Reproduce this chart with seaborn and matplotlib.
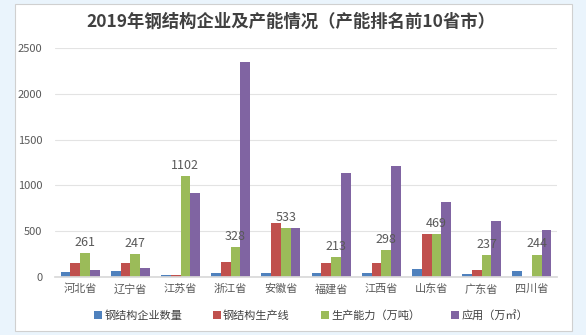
import matplotlib
matplotlib.use("Agg")
import matplotlib.pyplot as plt
import seaborn as sns
import pandas as pd
from matplotlib.patches import Rectangle

provinces = ["河北省", "辽宁省", "江苏省", "浙江省", "安徽省", "福建省", "江西省", "山东省", "广东省", "四川省"]
series_names = ["钢结构企业数量", "钢结构生产线", "生产能力（万吨）", "应用（万㎡）"]
enterprises = [55, 70, 25, 48, 45, 42, 45, 85, 30, 62]
lines = [148, 148, 25, 165, 590, 158, 148, 472, 80, 0]
capacity = [261, 247, 1102, 328, 533, 213, 298, 469, 237, 244]
application = [75, 102, 915, 2350, 530, 1135, 1212, 818, 610, 508]
colors = ["#4f81bd", "#c0504d", "#9bbb59", "#8064a2"]

rows = []
for name, vals in zip(series_names, [enterprises, lines, capacity, application]):
    for p, v in zip(provinces, vals):
        rows.append({"省": p, "系列": name, "值": v})
df = pd.DataFrame(rows)

sns.set_theme(style="white")
plt.rcParams["font.family"] = ["Noto Sans CJK SC", "DejaVu Sans"]

fig = plt.figure(figsize=(5.86, 3.35), dpi=100)
fig.patch.set_facecolor("#eaf4fc")
bg = Rectangle((15 / 586, 4 / 335), 557 / 586, 327 / 335, transform=fig.transFigure,
               facecolor="white", edgecolor="#d0d0d0", linewidth=0.8, zorder=-10)
fig.add_artist(bg)

ax = fig.add_axes([55 / 586, 58 / 335, 502 / 586, 229 / 335])
ax.set_facecolor("none")
sns.barplot(data=df, x="省", y="值", hue="系列", palette=colors, width=0.78, gap=0,
            saturation=1, ax=ax, legend=True, linewidth=0)

ax.set_ylim(0, 2500)
ax.set_xlim(-0.5, 9.5)
ax.set_yticks([0, 500, 1000, 1500, 2000, 2500])
ax.yaxis.grid(True, color="#e3e3e3", linewidth=0.8)
ax.set_axisbelow(True)
for s in ["top", "right", "left"]:
    ax.spines[s].set_visible(False)
ax.spines["bottom"].set_color("#d9d9d9")
ax.set_xlabel("")
ax.set_ylabel("")
ax.tick_params(axis="y", labelsize=8, colors="#595959", length=0, pad=9)
ax.tick_params(axis="x", labelsize=8, colors="#595959", length=0, pad=5)

# data labels on capacity bars
cap_container = ax.containers[2]
ax.bar_label(cap_container, labels=[str(v) for v in capacity], padding=3, fontsize=9, color="#595959")

leg = ax.legend(loc="upper center", bbox_to_anchor=(0.51, -0.10), ncol=4, frameon=False,
                fontsize=8, handlelength=0.7, handleheight=0.7, handletextpad=0.2,
                columnspacing=2.8)
for t in leg.get_texts():
    t.set_color("#404040")

fig.text(0.497, 0.934, "2019年钢结构企业及产能情况（产能排名前10省市）", ha="center", va="center",
         fontsize=12.5, fontweight="bold", color="#404040")

fig.savefig("out.png", dpi=100, facecolor=fig.get_facecolor())
